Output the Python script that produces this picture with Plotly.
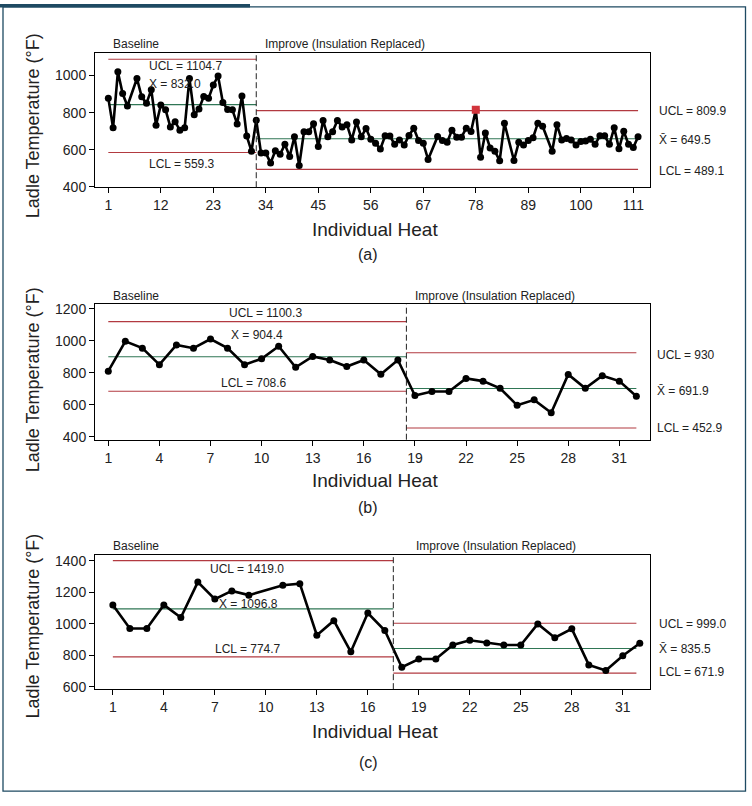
import plotly.graph_objects as go

W, H = 752, 806

# ---------------- data ----------------
# Panel (a)
a_heat = list(range(1, 113))
a_temp = [878, 718, 1020, 903, 836, None, 984, 885, 850, 924,
          732, 841, 815, 723, 751, 705, 719, 984, 788, 820,
          887, 877, 949, 997, 855, 817, 815, 739, 889, 674,
          592, 759,
          582, 582, 529, 594, 576, 629, 564, 670, 515, 697,
          697, 740, 617, 758, 670, 697, 758, 723, 735, 653,
          749, 670, 714, 656, 635, 604, 675, 674, 629, 653,
          626, 677, 716, 650, 635, 548, None, 672, 650, 640,
          705, 668, 668, 716, 698, 815, 559, 690, 610, 592,
          541, 743, None, 542, 640, 626, 650, 665, 743, 727,
          None, 592, 735, 653, 661, 653, 626, 644, 647, 656,
          629, 675, 675, 629, 718, 605, 700, 629, 612, 670]
a_ooc_heat = [78]
a_ooc_temp = [815]
a_phase = [[1, 32], [32, 112]]
a_ucl = [1088, 811]
a_mean = [843, 659]
a_lcl = [585, 494]
a_split = 32
a_xticks = [1, 12, 23, 34, 45, 56, 67, 78, 89, 100, 111]
a_yticks = [400, 600, 800, 1000]

# Panel (b)
b_heat = list(range(1, 33))
b_temp = [810, 997, 954, 851, 974, 954, 1011, 954, 851, 888,
          966, 834, 902, 880, 839, 880, 791, 880,
          658, 683, 683, 765, 748, 703, 597, 631, 550, 790,
          703, 782, 748, 654]
b_phase = [[1, 18.5], [18.5, 32]]
b_ucl = [1120, 925]
b_mean = [900, 702]
b_lcl = [685, 455]
b_split = 18.5
b_xticks = [1, 4, 7, 10, 13, 16, 19, 22, 25, 28, 31]
b_yticks = [400, 600, 800, 1000, 1200]

# Panel (c)
c_heat = list(range(1, 33))
c_temp = [1119, 969, 969, 1119, 1039, 1264, 1156, 1208, 1181, None,
          1244, 1254, 927, 1019, 821, 1067, 956,
          723, 775, 775, 864, 894, 877, 864, 864, 998,
          911, 967, 738, 702, 796, 875]
c_phase = [[1, 17.5], [17.5, 31.8]]
c_ucl = [1400, 1002]
c_mean = [1094, 842]
c_lcl = [789, 686]
c_split = 17.5
c_xticks = [1, 4, 7, 10, 13, 16, 19, 22, 25, 28, 31]
c_yticks = [600, 800, 1000, 1200, 1400]

# text
a_inner = ["UCL = 1104.7", "X = 832.0", "LCL = 559.3"]
a_right = ["UCL = 809.9", "X\u0304 = 649.5", "LCL = 489.1"]
b_inner = ["UCL = 1100.3", "X = 904.4", "LCL = 708.6"]
b_right = ["UCL = 930", "X\u0304 = 691.9", "LCL = 452.9"]
c_inner = ["UCL = 1419.0", "X = 1096.8", "LCL = 774.7"]
c_right = ["UCL = 999.0", "X\u0304 = 835.5", "LCL = 671.9"]
panel_tags = ["(a)", "(b)", "(c)"]

# ---------------- styling ----------------
FONT = "Liberation Sans, Arial, sans-serif"
RED = "#b23a40"
GREEN = "#2f7655"
FRAME = "#1e4a62"


def px(x):
    return x / W


def py(y):
    return 1 - y / H


fig = go.Figure()

panels = [
    dict(heat=a_heat, temp=a_temp, phase=a_phase, ucl=a_ucl, mean=a_mean, lcl=a_lcl,
         split=a_split, xticks=a_xticks, yticks=a_yticks,
         xr=[-1.79, 114.5], yr=[398, 1120], box=(50, 186)),
    dict(heat=b_heat, temp=b_temp, phase=b_phase, ucl=b_ucl, mean=b_mean, lcl=b_lcl,
         split=b_split, xticks=b_xticks, yticks=b_yticks,
         xr=[0.22, 32.8], yr=[382, 1227], box=(305, 442.3)),
    dict(heat=c_heat, temp=c_temp, phase=c_phase, ucl=c_ucl, mean=c_mean, lcl=c_lcl,
         split=c_split, xticks=c_xticks, yticks=c_yticks,
         xr=[-0.05, 32.6], yr=[584, 1436], box=(559.3, 695.5)),
]

shapes = []
for i, p in enumerate(panels):
    sfx = "" if i == 0 else str(i + 1)
    xa, ya = "x" + sfx, "y" + sfx
    # control lines
    for k, seg in enumerate(p["phase"]):
        for vals, col in ((p["ucl"], RED), (p["lcl"], RED), (p["mean"], GREEN)):
            fig.add_trace(go.Scatter(x=seg, y=[vals[k], vals[k]], mode="lines",
                                     line=dict(color=col, width=1.1),
                                     xaxis=xa, yaxis=ya, showlegend=False,
                                     hoverinfo="skip"))
    # data
    fig.add_trace(go.Scatter(x=p["heat"], y=p["temp"], mode="lines+markers",
                             connectgaps=True,
                             line=dict(color="black", width=2.6),
                             marker=dict(color="black", size=7),
                             xaxis=xa, yaxis=ya, showlegend=False))
    shapes.append(dict(type="line", xref=xa, yref=ya + " domain",
                       x0=p["split"], x1=p["split"], y0=0, y1=1,
                       line=dict(color="#222", width=1, dash="6px,3px")))
    axis_common = dict(showline=True, mirror=True, linecolor="black", linewidth=1,
                       ticks="outside", ticklen=5, tickwidth=1, tickcolor="black",
                       showgrid=False, zeroline=False,
                       tickfont=dict(family=FONT, size=14, color="#222"))
    top, bot = p["box"]
    fig.layout["xaxis" + sfx] = dict(axis_common, domain=[px(95), px(650)],
                                     range=p["xr"], tickvals=p["xticks"],
                                     anchor=ya)
    fig.layout["yaxis" + sfx] = dict(axis_common, domain=[py(bot), py(top)],
                                     range=p["yr"], tickvals=p["yticks"],
                                     anchor=xa)

# out-of-control point
fig.add_trace(go.Scatter(x=a_ooc_heat, y=a_ooc_temp, mode="markers",
                         marker=dict(color="#d2343c", size=8, symbol="square"),
                         xaxis="x", yaxis="y", showlegend=False))

ann = []


def text(t, x, y, size=12, xanchor="left", angle=0, color="#222"):
    ann.append(dict(text=t, x=px(x), y=py(y), xref="paper", yref="paper",
                    xanchor=xanchor, yanchor="middle", showarrow=False,
                    textangle=angle,
                    font=dict(family=FONT, size=size, color=color)))


# phase headers
for yy in (41, 296.7, 550):
    text("Baseline", 110.5, yy)
text("Improve (Insulation Replaced)", 263, 41)
text("Improve (Insulation Replaced)", 413, 296.7)
text("Improve (Insulation Replaced)", 414, 550)

# panel (a) labels
for t, yy in zip(a_inner, (63.3, 81, 162.3)):
    text(t, 146.5, yy)
for t, yy in zip(a_right, (109, 138.3, 169.3)):
    text(t, 657, yy)
# panel (b)
for t, xx, yy in zip(b_inner, (265, 256.5, 253.5), (313.3, 336, 384.3)):
    text(t, xx, yy, xanchor="center")
for t, yy in zip(b_right, (356, 392.7, 430)):
    text(t, 655, yy)
# panel (c)
for t, xx, yy in zip(c_inner, (247, 248.5, 247.5), (573.3, 609, 655)):
    text(t, xx, yy, xanchor="center")
for t, yy in zip(c_right, (629.3, 655, 678.3)):
    text(t, 656.5, yy)

# axis titles and tags
for yc in (124, 382, 632):
    text("Ladle Temperature (°F)", 33, yc, size=18, xanchor="center", angle=-90)
for yy, tag, ty in zip((229, 484, 738), panel_tags, (254, 511, 770)):
    text("Individual Heat", 375, yy, size=19, xanchor="center")
    text(tag, 368, ty, size=16, xanchor="center")

# frame
shapes.append(dict(type="rect", xref="paper", yref="paper",
                   x0=px(3), x1=px(745.5), y0=py(799), y1=py(3),
                   line=dict(color=FRAME, width=1.3)))
shapes.append(dict(type="rect", xref="paper", yref="paper",
                   x0=0, x1=px(250), y0=py(3.5), y1=1,
                   fillcolor=FRAME, line=dict(width=0)))

fig.update_layout(width=W, height=H, margin=dict(l=0, r=0, t=0, b=0),
                  paper_bgcolor="white", plot_bgcolor="white",
                  shapes=shapes, annotations=ann, showlegend=False)

fig.write_html("out.html",
               config={"displayModeBar": False},
               post_script="document.body.style.margin='0';"
                           "document.body.style.overflow='hidden';")
